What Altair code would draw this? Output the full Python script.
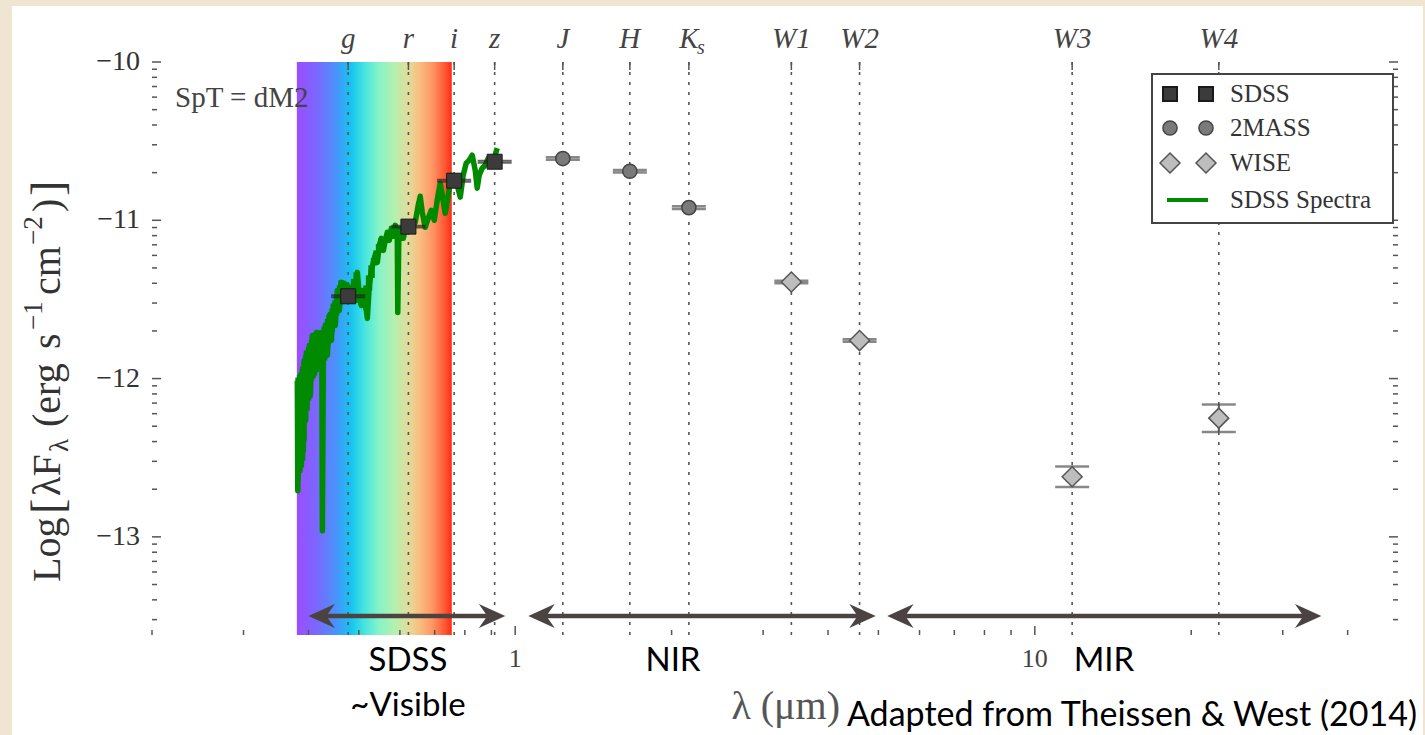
import math
import altair as alt
import pandas as pd

# Plot-area size in pixels
W, H = 1246, 573

# ---- photometric bands (effective wavelength, micron) ----
band_names = ["g", "r", "i", "z", "J", "H", "K", "W1", "W2", "W3", "W4"]
band_lam = [0.477, 0.623, 0.763, 0.913, 1.235, 1.662, 2.159, 3.4, 4.6, 11.8, 22.6]

# ---- photometry: log(lambda F_lambda) and uncertainty ----
sdss_lam = [0.477, 0.623, 0.763, 0.913]
sdss_flux = [-11.48, -11.04, -10.75, -10.63]
sdss_err = [0.006, 0.006, 0.006, 0.006]

tmass_lam = [1.235, 1.662, 2.159]
tmass_flux = [-10.61, -10.69, -10.92]
tmass_err = [0.008, 0.008, 0.008]

wise_lam = [3.4, 4.6, 11.8, 22.6]
wise_flux = [-11.39, -11.76, -12.62, -12.25]
wise_err = [0.008, 0.008, 0.065, 0.087]

# ---- SDSS optical spectrum ----
spec_lam = [
    0.3808, 0.3816, 0.3825, 0.3851, 0.3859, 0.3877, 0.3894, 0.3911, 0.3928, 0.3946,
    0.3963, 0.3981, 0.4016, 0.4034, 0.4070, 0.4107, 0.4144, 0.4181, 0.4217, 0.4246,
    0.4255, 0.4274, 0.4312, 0.4350, 0.4389, 0.4428, 0.4467, 0.4506, 0.4547, 0.4587,
    0.4628, 0.4669, 0.4732, 0.4774, 0.4838, 0.4902, 0.4968, 0.5012, 0.5057, 0.5102,
    0.5146, 0.5193, 0.5239, 0.5286, 0.5333, 0.5381, 0.5428, 0.5477, 0.5526, 0.5575,
    0.5623, 0.5673, 0.5724, 0.5774, 0.5826, 0.5878, 0.5930, 0.5943, 0.5970, 0.6036,
    0.6090, 0.6171, 0.6254, 0.6336, 0.6421, 0.6507, 0.6565, 0.6624, 0.6712, 0.6803,
    0.6894, 0.6986, 0.7079, 0.7174, 0.7238, 0.7335, 0.7433, 0.7533, 0.7634, 0.7736,
    0.7839, 0.7943, 0.8049, 0.8157, 0.8266, 0.8377, 0.8451, 0.8526, 0.8640, 0.8756,
    0.8873, 0.8991, 0.9112, 0.9234,
]
spec_flux = [
    -12.013, -12.709, -12.139, -12.582, -11.981, -12.551, -11.949, -12.456, -11.886, -12.266,
    -11.835, -12.139, -11.791, -12.108, -11.728, -11.949, -11.709, -11.918, -11.728, -11.949,
    -12.962, -11.886, -11.665, -11.854, -11.601, -11.759, -11.538, -11.665, -11.443, -11.570,
    -11.392, -11.506, -11.411, -11.506, -11.456, -11.506, -11.329, -11.475, -11.538, -11.443,
    -11.506, -11.620, -11.411, -11.316, -11.266, -11.215, -11.266, -11.158, -11.114, -11.190,
    -11.127, -11.076, -11.127, -11.051, -11.101, -11.032, -11.063, -11.582, -11.127, -11.051,
    -11.114, -11.032, -11.063, -11.038, -11.013, -10.905, -10.848, -10.949, -11.044, -10.987,
    -10.937, -11.000, -10.873, -10.766, -10.842, -10.956, -10.842, -10.715, -10.734, -10.778,
    -10.854, -10.715, -10.639, -10.620, -10.589, -10.684, -10.797, -10.715, -10.671, -10.652,
    -10.608, -10.633, -10.608, -10.544,
]

# upper / lower noise envelope of the blue end of the spectrum
env_lam = [0.3808, 0.3834, 0.3859, 0.3885, 0.3911, 0.3937, 0.3963, 0.3990, 0.4016, 0.4043,
           0.4070, 0.4097, 0.4124, 0.4152, 0.4181, 0.4208, 0.4236, 0.4274, 0.4312, 0.4340,
           0.4369, 0.4398, 0.4428, 0.4457, 0.4487, 0.4517, 0.4547, 0.4577, 0.4608, 0.4638,
           0.4669, 0.4700, 0.4732, 0.4774, 0.4817, 0.4870, 0.4924, 0.4979, 0.5034, 0.5090,
           0.5146, 0.5204, 0.5262, 0.5321, 0.5381, 0.5440, 0.5500]
env_hi = [-11.994, -11.978, -11.962, -11.924, -11.886, -11.854, -11.823, -11.800, -11.778, -11.753,
          -11.728, -11.718, -11.709, -11.702, -11.696, -11.696, -11.696, -11.671, -11.646, -11.623,
          -11.601, -11.579, -11.557, -11.531, -11.506, -11.475, -11.443, -11.411, -11.380, -11.380,
          -11.380, -11.386, -11.392, -11.400, -11.411, -11.370, -11.329, -11.386, -11.443, -11.427,
          -11.411, -11.348, -11.285, -11.238, -11.190, -11.150, -11.114]
env_lo = [-12.709, -12.646, -12.582, -12.550, -12.519, -12.392, -12.266, -12.202, -12.139, -12.076,
          -12.013, -11.997, -11.981, -11.959, -11.937, -11.937, -11.937, -11.911, -11.886, -11.838,
          -11.791, -11.769, -11.747, -11.706, -11.665, -11.633, -11.601, -11.570, -11.538, -11.522,
          -11.506, -11.506, -11.506, -11.512, -11.519, -11.512, -11.506, -11.522, -11.538, -11.554,
          -11.570, -11.506, -11.443, -11.364, -11.285, -11.244, -11.203]

# visible-light range shaded with a rainbow
visible_band = [0.38, 0.755]

# wavelength ranges marked with double arrows: SDSS, NIR, MIR
arrow_lo = [0.40, 1.06, 5.2]
arrow_hi = [0.957, 4.94, 35.6]
arrow_y = -13.5

# axis ticks
x_major = [1, 10]
x_minor = [0.2, 0.3, 0.4, 0.5, 0.6, 0.7, 0.8, 0.9, 2, 3, 4, 5, 6, 7, 8, 9, 20, 30, 40]
y_major = [-10, -11, -12, -13]
y_minor = [m + math.log10(k) for m in (-14, -13, -12, -11) for k in range(2, 10)]
y_minor = [v for v in y_minor if -13.62 < v < -10]

SERIF = "Liberation Serif"
SANS = "Lato"
INK = "#333333"
GREEN = "#008a00"

xs = alt.Scale(type="log", domain=[0.2, 50], nice=False)
ys = alt.Scale(domain=[-13.62, -10], nice=False, zero=False)


def X(field="lam"):
    return alt.X(f"{field}:Q", scale=xs, axis=None)


def Y(field="flux"):
    return alt.Y(f"{field}:Q", scale=ys, axis=None)


one = pd.DataFrame({"k": [0]})
spec = pd.DataFrame({"lam": spec_lam, "flux": spec_flux})
env = pd.DataFrame({"lam": env_lam, "top": env_hi, "bot": env_lo})
bands = pd.DataFrame({"lam": band_lam, "name": band_names})
sdss = pd.DataFrame({"lam": sdss_lam, "flux": sdss_flux, "err": sdss_err})
tmass = pd.DataFrame({"lam": tmass_lam, "flux": tmass_flux, "err": tmass_err})
wise = pd.DataFrame({"lam": wise_lam, "flux": wise_flux, "err": wise_err})
arrows = pd.DataFrame({"lo": arrow_lo, "hi": arrow_hi, "y": [arrow_y] * 3})
vis = pd.DataFrame({"lo": [visible_band[0]], "hi": [visible_band[1]]})
xmaj = pd.DataFrame({"lam": x_major})
ymaj = pd.DataFrame({"flux": y_major})

# white card behind the figure
card = alt.Chart(one).mark_rect(color="white").encode(
    x=alt.value(-140), x2=alt.value(1271), y=alt.value(-56), y2=alt.value(673)
)

rainbow = alt.LinearGradient(
    gradient="linear",
    stops=[
        alt.GradientStop(color="#9b4dff", offset=0.0),
        alt.GradientStop(color="#7a68ff", offset=0.13),
        alt.GradientStop(color="#4a92fb", offset=0.25),
        alt.GradientStop(color="#16c4f0", offset=0.35),
        alt.GradientStop(color="#48e6de", offset=0.44),
        alt.GradientStop(color="#86f3c8", offset=0.53),
        alt.GradientStop(color="#b4f0ae", offset=0.63),
        alt.GradientStop(color="#e2dc9c", offset=0.72),
        alt.GradientStop(color="#f8bf80", offset=0.79),
        alt.GradientStop(color="#ff9262", offset=0.88),
        alt.GradientStop(color="#ff5432", offset=0.96),
        alt.GradientStop(color="#ff2a10", offset=1.0),
    ],
    x1=0, x2=1, y1=0, y2=0,
)
band_rect = alt.Chart(vis).mark_rect(color=rainbow).encode(
    x=X("lo"), x2="hi", y=alt.value(0), y2=alt.value(H)
)

dotted = alt.Chart(bands).mark_rule(
    color="#555555", strokeWidth=1.6, strokeDash=[3, 7]
).encode(x=X(), y=alt.value(0), y2=alt.value(H))

# dense noise at the blue end: vertical strokes spanning the envelope
spec_env = alt.Chart(env).mark_rule(color=GREEN, strokeWidth=4).encode(
    x=X(), y=Y("top"), y2="bot"
)
spectrum = alt.Chart(spec).mark_line(
    color=GREEN, strokeWidth=5.5, strokeJoin="round"
).encode(x=X(), y=Y(), order="lam:Q")


# uncertainty bars with caps (tiny errors merge into one short bar)
def errbars(df, color, thick):
    base = alt.Chart(df).transform_calculate(
        lo="datum.flux - datum.err", hi="datum.flux + datum.err"
    )
    rule = base.mark_rule(color=color, strokeWidth=2).encode(x=X(), y=Y("lo"), y2="hi")
    lo = base.mark_tick(orient="horizontal", size=34, thickness=thick, color=color).encode(
        x=X(), y=Y("lo"))
    hi = base.mark_tick(orient="horizontal", size=34, thickness=thick, color=color).encode(
        x=X(), y=Y("hi"))
    return [rule, lo, hi]


err_layers = errbars(sdss, "#222222", 2) + errbars(tmass, "#555555", 2.5) + errbars(wise, "#555555", 2.5)

sdss_pts = alt.Chart(sdss).mark_point(
    shape="square", filled=True, size=225, color="#3b3b3b", stroke="#1a1a1a",
    strokeWidth=1, opacity=1
).encode(x=X(), y=Y())
tmass_pts = alt.Chart(tmass).mark_point(
    shape="circle", filled=True, size=200, color="#7a7a7a", stroke="#444444",
    strokeWidth=1.5, opacity=1
).encode(x=X(), y=Y())
wise_pts = alt.Chart(wise).mark_point(
    shape="diamond", filled=True, size=400, color="#bdbdbd", stroke="#555555",
    strokeWidth=1.5, opacity=1
).encode(x=X(), y=Y())

# ticks drawn inside the frame
TICK = "#555555"
xt_major = alt.Chart(xmaj).mark_rule(color=TICK, strokeWidth=1.5).encode(
    x=X(), y=alt.value(H), y2=alt.value(H - 9))
xt_minor = alt.Chart(pd.DataFrame({"lam": x_minor})).mark_rule(color=TICK, strokeWidth=1.5).encode(
    x=X(), y=alt.value(H), y2=alt.value(H - 5))
xt_top = alt.Chart(bands).mark_rule(color=TICK, strokeWidth=1.5).encode(
    x=X(), y=alt.value(0), y2=alt.value(8))
yt_major_l = alt.Chart(ymaj).mark_rule(color=TICK, strokeWidth=1.5).encode(
    y=Y(), x=alt.value(0), x2=alt.value(9))
yt_minor_l = alt.Chart(pd.DataFrame({"flux": y_minor})).mark_rule(color=TICK, strokeWidth=1.5).encode(
    y=Y(), x=alt.value(0), x2=alt.value(5))
yt_major_r = alt.Chart(ymaj).mark_rule(color=TICK, strokeWidth=1.5).encode(
    y=Y(), x=alt.value(W), x2=alt.value(W - 9))
yt_minor_r = alt.Chart(pd.DataFrame({"flux": y_minor})).mark_rule(color=TICK, strokeWidth=1.5).encode(
    y=Y(), x=alt.value(W), x2=alt.value(W - 5))

# tick labels
x_labels = alt.Chart(xmaj).mark_text(
    font=SERIF, fontSize=26, color="#444444", align="center", baseline="middle"
).encode(x=X(), y=alt.value(H + 24), text=alt.Text("lam:Q", format="d"))
y_labels = alt.Chart(ymaj).mark_text(
    font=SERIF, fontSize=28, color=INK, align="right", baseline="middle"
).encode(y=Y(), x=alt.value(-12), text=alt.Text("flux:Q", format="d"))

# band names along the top
band_text = alt.Chart(bands).mark_text(
    font=SERIF, fontStyle="italic", fontSize=29, color="#444444",
    baseline="alphabetic", align="center"
).encode(x=X(), y=alt.value(-14), text="name:N")
ks_sub = alt.Chart(pd.DataFrame({"lam": [2.159]})).mark_text(
    text="s", font=SERIF, fontStyle="italic", fontSize=20, color="#444444",
    baseline="alphabetic", align="left", dx=8, dy=6
).encode(x=X(), y=alt.value(-14))

spt = alt.Chart(one).mark_text(
    text="SpT = dM2", font=SERIF, fontSize=29, color="#444444",
    align="left", baseline="middle"
).encode(x=alt.value(23), y=alt.value(36))

# legend
leg_box = alt.Chart(one).mark_rect(fill="white", stroke="#444444", strokeWidth=2).encode(
    x=alt.value(1000), x2=alt.value(1241), y=alt.value(12), y2=alt.value(161))
leg_pos = pd.DataFrame({"px": [1018, 1054]})
leg_sq = alt.Chart(leg_pos).mark_point(
    shape="square", filled=True, size=196, color="#3b3b3b", stroke="#1a1a1a", opacity=1
).encode(x=alt.X("px:Q", scale=None, axis=None), y=alt.value(32))
leg_ci = alt.Chart(leg_pos).mark_point(
    shape="circle", filled=True, size=200, color="#7a7a7a", stroke="#444444",
    strokeWidth=1.5, opacity=1
).encode(x=alt.X("px:Q", scale=None, axis=None), y=alt.value(66))
leg_di = alt.Chart(leg_pos).mark_point(
    shape="diamond", filled=True, size=400, color="#bdbdbd", stroke="#555555",
    strokeWidth=1.5, opacity=1
).encode(x=alt.X("px:Q", scale=None, axis=None), y=alt.value(101))
leg_line = alt.Chart(one).mark_rule(color=GREEN, strokeWidth=4).encode(
    x=alt.value(1015), x2=alt.value(1056), y=alt.value(138))
leg_labels = pd.DataFrame({"t": ["SDSS", "2MASS", "WISE", "SDSS Spectra"],
                           "py": [32, 66, 101, 138]})
leg_text = alt.Chart(leg_labels).mark_text(
    font=SERIF, fontSize=25, color=INK, align="left", baseline="middle"
).encode(x=alt.value(1078), y=alt.Y("py:Q", scale=None, axis=None), text="t:N")

# double-headed range arrows
arrow_col = "#4a4341"
shaft = alt.Chart(arrows).mark_rule(
    color=arrow_col, strokeWidth=4.5, xOffset=14, x2Offset=-14
).encode(x=X("lo"), x2="hi", y=Y("y"))
head_l = alt.Chart(arrows).mark_point(
    shape="M0,0 L2.2,-1 L1.5,0 L2.2,1 Z", size=576, filled=True, color=arrow_col, opacity=1
).encode(x=X("lo"), y=Y("y"))
head_r = alt.Chart(arrows).mark_point(
    shape="M0,0 L-2.2,-1 L-1.5,0 L-2.2,1 Z", size=576, filled=True, color=arrow_col, opacity=1
).encode(x=X("hi"), y=Y("y"))


def note(text, x, y, size=33, align="center", font=SANS, color="black"):
    return alt.Chart(one).mark_text(
        text=text, font=font, fontSize=size, color=color, align=align,
        baseline="middle"
    ).encode(x=alt.value(x), y=alt.value(y))


notes = [
    note("SDSS", 256, 599),
    note("~Visible", 256, 644),
    note("NIR", 521, 599),
    note("MIR", 952, 599),
    note("Adapted from Theissen & West (2014)", 1265, 654, size=34, align="right"),
    note("λ (μm)", 688, 645, size=40, align="right", font=SERIF, color="#555555"),
]


# rotated y-axis title, built from pieces so the sub/superscripts sit right
def ypiece(text, y, x=-92, size=40):
    return alt.Chart(one).mark_text(
        text=text, font=SERIF, fontSize=size, color=INK, angle=270,
        align="left", baseline="alphabetic"
    ).encode(x=alt.value(x), y=alt.value(y))


ytitle = [
    ypiece("Log", 520),
    ypiece("[", 452, x=-89, size=46),
    ypiece("λF", 434),
    ypiece("λ", 390, x=-84, size=27),
    ypiece("(erg", 365),
    ypiece("s", 287),
    ypiece("−1", 268, x=-110, size=27),
    ypiece("cm", 233),
    ypiece("−2", 183, x=-110, size=27),
    ypiece(")", 150),
    ypiece("]", 134, x=-89, size=46),
]

chart = alt.layer(
    card, band_rect, dotted, spec_env, spectrum,
    *err_layers, sdss_pts, tmass_pts, wise_pts,
    xt_major, xt_minor, xt_top, yt_major_l, yt_minor_l, yt_major_r, yt_minor_r,
    x_labels, y_labels,
    band_text, ks_sub, spt,
    leg_box, leg_sq, leg_ci, leg_di, leg_line, leg_text,
    shaft, head_l, head_r,
    *notes, *ytitle,
).properties(
    width=W, height=H,
    background="#efe5d0",
    padding={"left": 152, "top": 62, "right": 27, "bottom": 100},
    autosize=alt.AutoSizeParams(type="none"),
).configure_view(
    stroke="#6b6b6b", strokeWidth=2.5
)

chart.save("out.html", embed_options={"renderer": "svg", "actions": False})
